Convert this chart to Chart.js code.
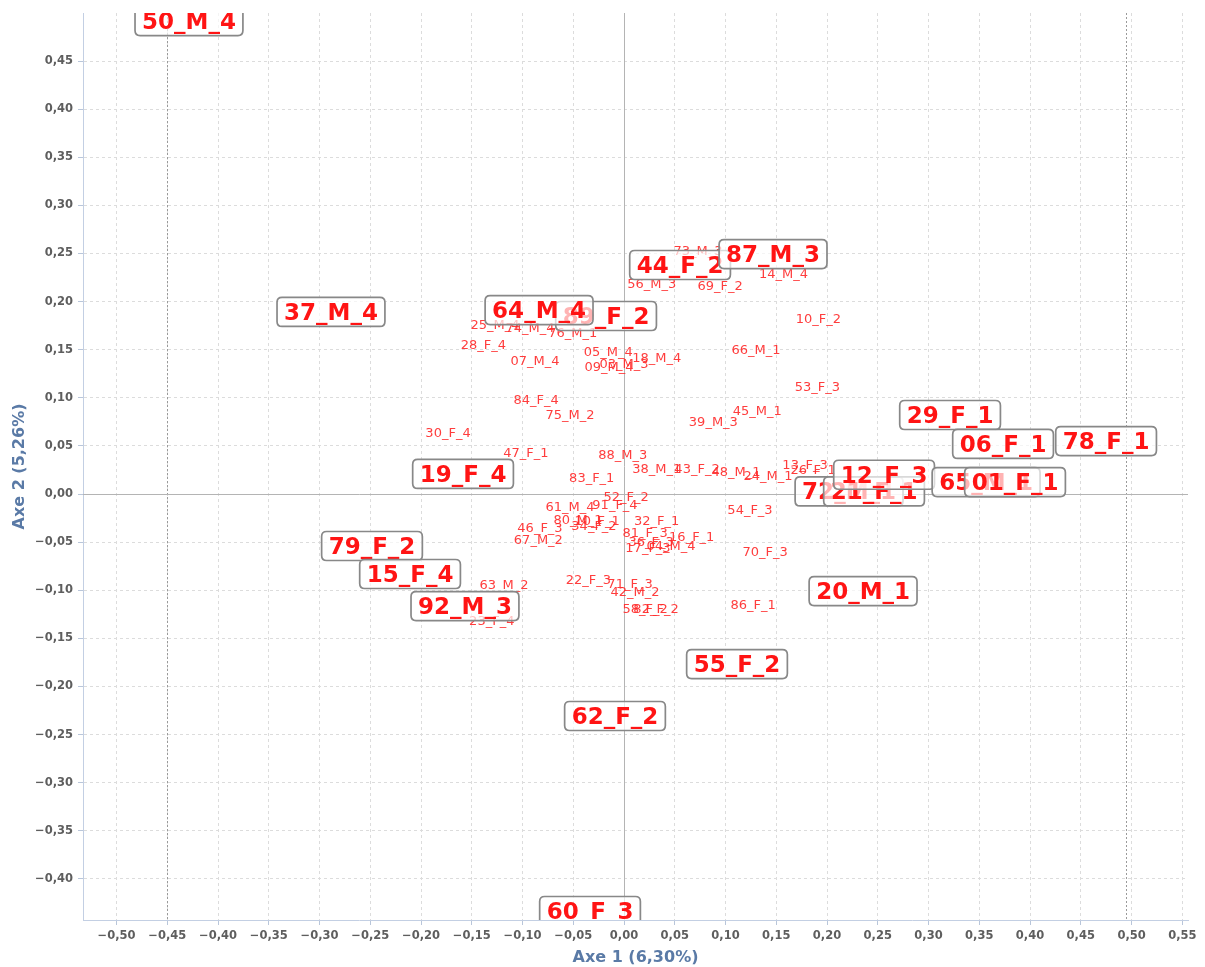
<!DOCTYPE html>
<html>
<head>
<meta charset="utf-8">
<script src="https://cdn.jsdelivr.net/npm/chart.js@4.4.0/dist/chart.umd.min.js"></script>
<style>
  html, body { margin: 0; padding: 0; background: #fff; }
  #wrap { width: 1205px; height: 967px; position: relative; }
</style>
</head>
<body>
<div id="wrap"><canvas id="myChart"></canvas></div>
<script>
// small labels (no box)
const smallNames = ['73_M_3', '56_M_3', '69_F_2', '14_M_4', '10_F_2', '66_M_1', '53_F_3', '45_M_1', '39_M_3',
  '25_M_4', '74_M_4', '76_M_1', '28_F_4', '07_M_4', '05_M_4', '09_M_4', '03_M_3', '18_M_4', '84_F_4', '75_M_2',
  '30_F_4', '47_F_1', '88_M_3', '38_M_1', '43_F_2', '48_M_1', '24_M_1', '13_F_3', '26_F_1', '83_F_1', '52_F_2',
  '61_M_4', '91_F_4', '54_F_3', '80_M_1', '10_F_1', '34_F_2', '32_F_1', '81_F_3', '46_F_3', '67_M_2', '16_F_1',
  '36_F_3', '17_F_3', '04_M_4', '70_F_3', '63_M_2', '22_F_3', '71_F_3', '42_M_2', '58_F_2', '82_F_2', '23_F_4',
  '86_F_1']
const smallX = [0.0729, 0.0273, 0.0946, 0.157, 0.1914, 0.130, 0.1905, 0.1313, 0.088,
  -0.1271, -0.0926, -0.0506, -0.1386, -0.0877, -0.0155, -0.0148, 0.0, 0.0322, -0.0867, -0.0532,
  -0.1734, -0.0966, -0.0013, 0.0322, 0.0719, 0.1103, 0.1419, 0.1783, 0.1862, -0.0318, 0.002,
  -0.0532, -0.0089, 0.1241, -0.0453, -0.0266, -0.0296, 0.0322, 0.0207, -0.0828, -0.0844, 0.0667,
  0.0266, 0.0236, 0.0463, 0.1389, -0.1182, -0.0352, 0.0059, 0.0108, 0.0207, 0.0315, -0.1303,
  0.1271]
const smallY = [0.2516, 0.2173, 0.2155, 0.2284, 0.1809, 0.149, 0.111, 0.0856, 0.0741,
  0.175, 0.1715, 0.1663, 0.1542, 0.1375, 0.1473, 0.1317, 0.134, 0.1403, 0.0967, 0.0811,
  0.0624, 0.0423, 0.0398, 0.025, 0.0252, 0.0218, 0.0177, 0.0291, 0.0239, 0.0163, -0.0038,
  -0.0139, -0.0121, -0.0173, -0.0281, -0.0288, -0.0343, -0.0288, -0.0409, -0.0357, -0.0485, -0.0454,
  -0.0509, -0.0572, -0.0551, -0.0613, -0.0956, -0.0901, -0.0946, -0.1026, -0.1206, -0.1206, -0.1327,
  -0.1164]

// big labels (boxed), listed in drawing order
const bigNames = ['50_M_4', '37_M_4', '89_F_2', '64_M_4', '44_F_2', '87_M_3', '29_F_1', '06_F_1', '78_F_1',
  '19_F_4', '72_M_1', '21_F_1', '12_F_3', '65_M_1', '01_F_1', '79_F_2', '15_F_4', '92_M_3', '20_M_1',
  '55_F_2', '62_F_2', '60_F_3']
const bigX = [-0.4286, -0.2887, -0.0177, -0.0837, 0.0552, 0.1468, 0.3212, 0.3734, 0.4749,
  -0.1586, 0.2217, 0.2463, 0.2562, 0.3567, 0.3852, -0.2483, -0.2108, -0.1567, 0.2355,
  0.1113, -0.0089, -0.0335]
const bigY = [0.4906, 0.1882, 0.184, 0.1902, 0.237, 0.2484, 0.0811, 0.051, 0.054,
  0.0198, 0.0016, 0.0016, 0.019, 0.0114, 0.0114, -0.0551, -0.0842, -0.1175, -0.1019,
  -0.1778, -0.2318, -0.4345]

const xTicks = [-0.50, -0.45, -0.40, -0.35, -0.30, -0.25, -0.20, -0.15, -0.10, -0.05, 0, 0.05,
  0.10, 0.15, 0.20, 0.25, 0.30, 0.35, 0.40, 0.45, 0.50, 0.55]
const yTicks = [-0.40, -0.35, -0.30, -0.25, -0.20, -0.15, -0.10, -0.05, 0, 0.05, 0.10, 0.15,
  0.20, 0.25, 0.30, 0.35, 0.40, 0.45]
const markerX = [-0.45, 0.4945]

const FONT = "'DejaVu Sans', 'Liberation Sans', sans-serif"

function fmt(v) {
  if (Math.abs(v) < 1e-9) return '0,00'
  return v.toFixed(2).replace('.', ',').replace('-', '\u2212')
}

function toPoints(xs, ys) {
  return xs.map((x, i) => ({ x, y: ys[i] }))
}

// zero lines and dotted markers
const guidePlugin = {
  id: 'guides',
  beforeDatasetsDraw(chart) {
    const { ctx, chartArea, scales } = chart
    ctx.save()
    ctx.lineWidth = 1
    ctx.strokeStyle = '#9a9a9a'
    ctx.setLineDash([2, 2])
    markerX.forEach((v) => {
      const px = Math.round(scales.x.getPixelForValue(v)) + 0.5
      ctx.beginPath()
      ctx.moveTo(px, chartArea.top)
      ctx.lineTo(px, chartArea.bottom)
      ctx.stroke()
    })
    ctx.setLineDash([])
    ctx.strokeStyle = '#b4b4b4'
    const x0 = Math.round(scales.x.getPixelForValue(0)) + 0.5
    const y0 = Math.round(scales.y.getPixelForValue(0)) + 0.5
    ctx.beginPath()
    ctx.moveTo(x0, chartArea.top)
    ctx.lineTo(x0, chartArea.bottom)
    ctx.moveTo(chartArea.left, y0)
    ctx.lineTo(chartArea.right, y0)
    ctx.stroke()
    ctx.restore()
  }
}

function roundRect(ctx, x, y, w, h, r) {
  ctx.beginPath()
  ctx.moveTo(x + r, y)
  ctx.lineTo(x + w - r, y)
  ctx.quadraticCurveTo(x + w, y, x + w, y + r)
  ctx.lineTo(x + w, y + h - r)
  ctx.quadraticCurveTo(x + w, y + h, x + w - r, y + h)
  ctx.lineTo(x + r, y + h)
  ctx.quadraticCurveTo(x, y + h, x, y + h - r)
  ctx.lineTo(x, y + r)
  ctx.quadraticCurveTo(x, y, x + r, y)
  ctx.closePath()
}

// text labels at each point
const labelPlugin = {
  id: 'labels',
  afterDatasetsDraw(chart) {
    const { ctx, chartArea } = chart
    ctx.save()
    ctx.beginPath()
    ctx.rect(chartArea.left, chartArea.top, chartArea.right - chartArea.left, chartArea.bottom - chartArea.top)
    ctx.clip()
    ctx.textAlign = 'center'
    ctx.textBaseline = 'middle'

    // small
    const m0 = chart.getDatasetMeta(0)
    ctx.font = '13px ' + FONT
    ctx.fillStyle = 'rgba(255, 40, 40, 0.9)'
    m0.data.forEach((pt, i) => {
      ctx.fillText(smallNames[i], pt.x, pt.y)
    })

    // big, boxed
    const m1 = chart.getDatasetMeta(1)
    ctx.font = 'bold 23px ' + FONT
    m1.data.forEach((pt, i) => {
      const tw = ctx.measureText(bigNames[i]).width
      const w = tw + 14
      const h = 29
      roundRect(ctx, pt.x - w / 2, pt.y - h / 2 - 1, w, h, 5)
      ctx.fillStyle = 'rgba(255, 255, 255, 0.68)'
      ctx.fill()
      ctx.lineWidth = 1.7
      ctx.strokeStyle = '#888'
      ctx.stroke()
      ctx.fillStyle = '#ff1414'
      ctx.fillText(bigNames[i], pt.x, pt.y + 1)
    })
    ctx.restore()
  }
}

const ctx = document.getElementById('myChart').getContext('2d')
const myChart = new Chart(ctx, {
  type: 'scatter',
  data: {
    datasets: [{
      label: 'small',
      data: toPoints(smallX, smallY),
      pointRadius: 0,
      pointHoverRadius: 0
    }, {
      label: 'big',
      data: toPoints(bigX, bigY),
      pointRadius: 0,
      pointHoverRadius: 0
    }]
  },
  options: {
    responsive: true,
    maintainAspectRatio: false,
    animation: false,
    layout: {
      padding: { top: 13, right: 17, left: 0, bottom: 0 }
    },
    scales: {
      x: {
        type: 'linear',
        min: -0.533,
        max: 0.5556,
        afterFit(scale) { scale.height = 47 },
        afterBuildTicks(scale) { scale.ticks = xTicks.map(v => ({ value: v })) },
        grid: {
          color: '#dcdcdc',
          tickColor: '#b9c6da',
          tickLength: 5
        },
        border: { display: true, color: '#c3cfe3', width: 1, dash: [3, 3] },
        ticks: {
          color: '#5e5e5e',
          font: { family: FONT, size: 11.5, weight: 'bold' },
          padding: 4,
          maxRotation: 0,
          autoSkip: false,
          callback: (v) => fmt(v)
        },
        title: {
          display: true,
          text: 'Axe 1 (6,30%)',
          color: '#5a7aa6',
          font: { family: FONT, size: 16, weight: 'bold' },
          padding: { top: 0, bottom: 0 }
        }
      },
      y: {
        type: 'linear',
        min: -0.4428,
        max: 0.5,
        afterFit(scale) { scale.width = 83 },
        afterBuildTicks(scale) { scale.ticks = yTicks.map(v => ({ value: v })) },
        grid: {
          color: '#dcdcdc',
          tickColor: '#b9c6da',
          tickLength: 5
        },
        border: { display: true, color: '#c3cfe3', width: 1, dash: [3, 3] },
        ticks: {
          color: '#5e5e5e',
          font: { family: FONT, size: 11.5, weight: 'bold' },
          padding: 5,
          autoSkip: false,
          callback: (v) => fmt(v)
        },
        title: {
          display: true,
          text: 'Axe 2 (5,26%)',
          color: '#5a7aa6',
          font: { family: FONT, size: 16, weight: 'bold' },
          padding: { top: 10, bottom: 0 }
        }
      }
    },
    plugins: {
      legend: { display: false },
      tooltip: { enabled: false }
    }
  },
  plugins: [guidePlugin, labelPlugin]
})
</script>
</body>
</html>
